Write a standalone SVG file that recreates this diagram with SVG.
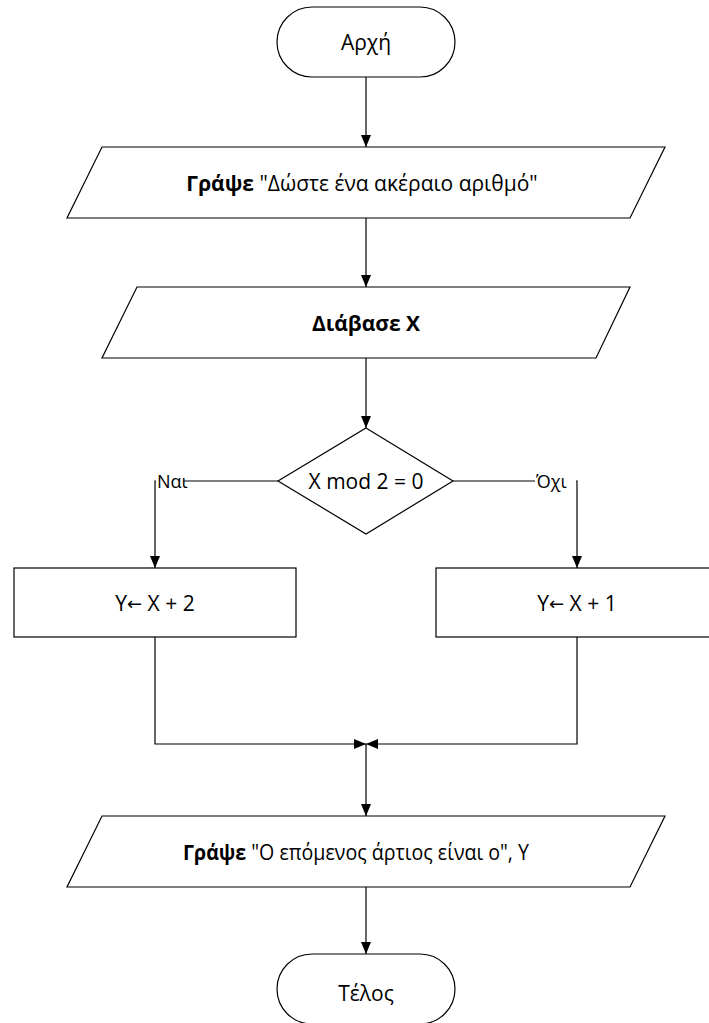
<svg xmlns="http://www.w3.org/2000/svg" width="709" height="1023" viewBox="0 0 709 1023">
<style>
.shape{fill:#fff;stroke:#000;stroke-width:1.2}
.t{font-family:"Open Sans","Noto Sans","Liberation Sans",sans-serif;font-size:21px;fill:#000;text-anchor:middle;dominant-baseline:central}
.b{font-weight:bold}
.ar{font-family:"DejaVu Sans",sans-serif;font-size:18px}
.lbl{font-family:"Open Sans","Noto Sans","Liberation Sans",sans-serif;font-size:18px;fill:#000;dominant-baseline:central}
.c{fill:none;stroke:#000;stroke-width:1.2}
</style>
<defs>
<marker id="ah" viewBox="0 0 12 10" refX="12" refY="5" markerWidth="12" markerHeight="10" markerUnits="userSpaceOnUse" orient="auto">
<path d="M0,0 L12,5 L0,10 Z" fill="#000"/>
</marker>
</defs>
<rect width="709" height="1023" fill="#fff"/>
<g id="connectors">
<path class="c" d="M366,77 V147" marker-end="url(#ah)"/>
<path class="c" d="M366,218 V287" marker-end="url(#ah)"/>
<path class="c" d="M366,358 V428" marker-end="url(#ah)"/>
<path class="c" d="M278,481 H155 V568" marker-end="url(#ah)"/>
<path class="c" d="M453,481 H577 V568" marker-end="url(#ah)"/>
<path class="c" d="M155,637 V744 H366" marker-end="url(#ah)"/>
<path class="c" d="M577,637 V744 H366" marker-end="url(#ah)"/>
<path class="c" d="M366,744 V816" marker-end="url(#ah)"/>
<path class="c" d="M366,887 V954" marker-end="url(#ah)"/>
<rect x="156" y="470" width="28" height="22" fill="#fff"/>
<text class="lbl" x="157" y="481">Ναι</text>
<rect x="535" y="470" width="41" height="22" fill="#fff"/>
<text class="lbl" x="536" y="481">Όχι</text>
</g>
<g id="start">
<rect class="shape" x="277" y="7" width="178" height="70" rx="35" ry="35"/>
<text class="t" x="366" y="42">Αρχή</text>
</g>
<g id="write1">
<polygon class="shape" points="102,147 665,147 630,218 67,218"/>
<text class="t" x="362" y="183"><tspan class="b">Γράψε</tspan> "Δώστε ένα ακέραιο αριθμό"</text>
</g>
<g id="read">
<polygon class="shape" points="137,287 630,287 596,358 102,358"/>
<text class="t b" x="366" y="323">Διάβασε Χ</text>
</g>
<g id="decision">
<polygon class="shape" points="366,428 453,481 366,534 278,481"/>
<text class="t" x="366" y="481">X mod 2 = 0</text>
</g>
<g id="assignYes">
<rect class="shape" x="14" y="568" width="282" height="69"/>
<text class="t" x="155" y="603">Y<tspan class="ar">←</tspan> X + 2</text>
</g>
<g id="assignNo">
<rect class="shape" x="436" y="568" width="282" height="69"/>
<text class="t" x="577" y="603">Y<tspan class="ar">←</tspan> X + 1</text>
</g>
<g id="write2">
<polygon class="shape" points="102,816 665,816 630,887 67,887"/>
<text class="t" x="356" y="852" textLength="346" lengthAdjust="spacingAndGlyphs"><tspan class="b">Γράψε</tspan> "Ο επόμενος άρτιος είναι ο", Y</text>
</g>
<g id="end">
<rect class="shape" x="277" y="954" width="178" height="70" rx="35" ry="35"/>
<text class="t" x="366" y="993">Τέλος</text>
</g>
</svg>
